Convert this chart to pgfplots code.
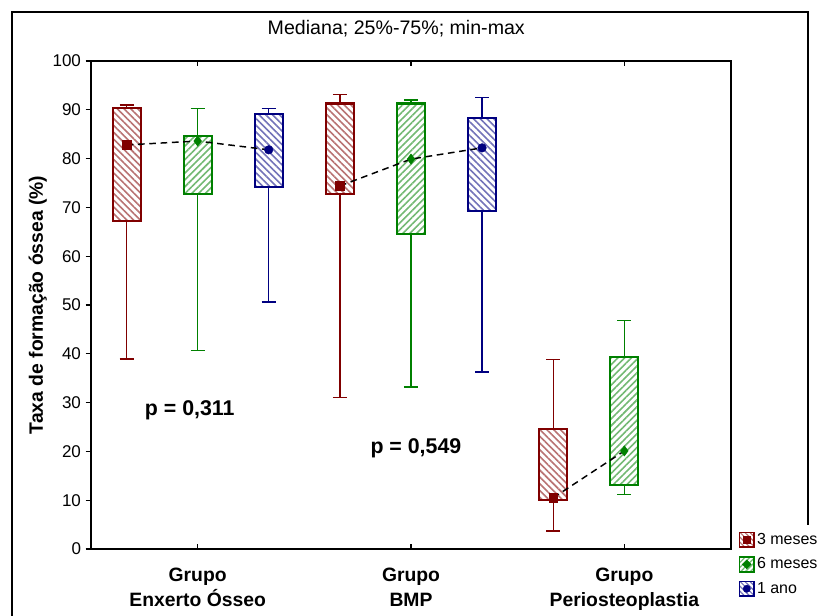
\documentclass[border=0pt]{standalone}
\usepackage{fontspec}
\setmainfont{Liberation Sans}
\usepackage{pgfplots}
\pgfplotsset{compat=1.18}
\usetikzlibrary{patterns.meta}
\definecolor{redc}{RGB}{128,0,0}
\definecolor{greenc}{RGB}{0,128,0}
\definecolor{bluec}{RGB}{0,0,128}
% #1 colour, #2 hatch angle, #3 position, #4 min, #5 Q1, #6 Q3, #7 max
\newcommand{\mybox}[7]{%
  \pgfmathsetmacro{\xa}{#3-0.0655}\pgfmathsetmacro{\xb}{#3+0.0655}%
  \pgfmathsetmacro{\ca}{#3-0.033}\pgfmathsetmacro{\cb}{#3+0.033}%
  \addplot[forget plot, draw=#1, line width=1pt] coordinates {(#3,#5)(#3,#4)};
  \addplot[forget plot, draw=#1, line width=1pt] coordinates {(#3,#6)(#3,#7)};
  \addplot[forget plot, draw=#1, line width=1pt] coordinates {(\ca,#4)(\cb,#4)};
  \addplot[forget plot, draw=#1, line width=1pt] coordinates {(\ca,#7)(\cb,#7)};
  \addplot[forget plot, draw=#1, line width=1.6pt, line join=miter, preaction={fill=white},
    pattern={Lines[angle=#2,distance=3.6pt,line width=1.2pt]}, pattern color=#1!55]
    coordinates {(\xa,#5)(\xb,#5)(\xb,#6)(\xa,#6)} --cycle;
}
\begin{document}
\begin{tikzpicture}
\begin{axis}[
  at={(0,0)}, anchor=south west,
  scale only axis, width=480pt, height=366pt,
  xmin=0.5, xmax=3.5, ymin=0, ymax=100,
  xtick={1,2,3},
  xticklabels={{Grupo\\Enxerto Ósseo},{Grupo\\BMP},{Grupo\\Periosteoplastia}},
  ytick={0,10,...,100},
  axis line style={line width=0.8pt},
  major tick length=4pt,
  xtick align=inside, ytick align=outside, ytick pos=left,
  tick style={black, line width=0.8pt},
  /pgf/number format/assume math mode=true,
  yticklabel style={font=\fontsize{12.75}{15}\selectfont},
  xticklabel style={font=\bfseries\fontsize{14.5}{18.75}\selectfont, align=center, yshift=-11pt},
  title={Mediana; 25\%-75\%; min-max},
  title style={at={(rel axis cs:0.477,1)}, anchor=base, yshift=13.5pt, font=\fontsize{14.7}{17}\selectfont},
  ylabel={Taxa de formação óssea (\%)},
  every axis y label/.style={at={([xshift=-36pt]rel axis cs:0,0.5)}, rotate=90, anchor=base, font=\bfseries\fontsize{14.5}{17}\selectfont},
  legend style={at={(rel axis cs:1,0)}, anchor=north west, xshift=5.5pt, yshift=13.5pt,
    draw=none, fill=none, font=\fontsize{12}{14}\selectfont, inner sep=0pt, row sep=5.5pt,
    nodes={inner sep=1.5pt}},
  legend cell align=left,
  clip=false,
]
% Grupo Enxerto Osseo
\mybox{redc}{-45}{0.667}{38.9}{67.3}{90.4}{91.0}
\mybox{greenc}{45}{1.0}{40.7}{72.7}{84.7}{90.2}
\mybox{bluec}{-45}{1.333}{50.6}{74.2}{89.1}{90.3}
% Grupo BMP
\mybox{redc}{-45}{1.667}{31.0}{72.8}{91.3}{93.2}
\mybox{greenc}{45}{2.0}{33.2}{64.5}{91.3}{92.0}
\mybox{bluec}{-45}{2.333}{36.3}{69.3}{88.4}{92.5}
% Grupo Periosteoplastia
\mybox{redc}{-45}{2.667}{3.7}{10.0}{24.6}{38.8}
\mybox{greenc}{45}{3.0}{11.1}{13.1}{39.3}{46.8}
% dashed median lines
\addplot[forget plot, black, line width=1.1pt, dash pattern=on 5pt off 3.5pt] coordinates {(0.667,82.8)(1.0,83.6)(1.333,81.8)};
\addplot[forget plot, black, line width=1.1pt, dash pattern=on 5pt off 3.5pt] coordinates {(1.667,74.4)(2.0,79.9)(2.333,82.2)};
\addplot[forget plot, black, line width=1.1pt, dash pattern=on 5pt off 3.5pt] coordinates {(2.667,10.5)(3.0,20.1)};
% median markers
\addplot[forget plot, only marks, mark=square*, mark size=3.2pt, color=redc] coordinates {(0.667,82.8)(1.667,74.4)(2.667,10.5)};
\addplot[forget plot, only marks, mark=diamond*, mark size=3.8pt, color=greenc] coordinates {(1.0,83.6)(2.0,79.9)(3.0,20.1)};
\addplot[forget plot, only marks, mark=*, mark size=3.2pt, color=bluec] coordinates {(1.333,81.8)(2.333,82.2)};
% legend
\addlegendimage{legend image code/.code={
  \draw[draw=redc, line width=1.3pt, preaction={fill=white}, pattern={Lines[angle=-45,distance=2.6pt,line width=0.9pt]}, pattern color=redc!55] (0pt,-5.5pt) rectangle (11pt,5.5pt);
  \fill[redc] (3pt,-2.5pt) rectangle (8pt,2.5pt);}}
\addlegendentry{3 meses}
\addlegendimage{legend image code/.code={
  \draw[draw=greenc, line width=1.3pt, preaction={fill=white}, pattern={Lines[angle=45,distance=2.6pt,line width=0.9pt]}, pattern color=greenc!55] (0pt,-5.5pt) rectangle (11pt,5.5pt);
  \fill[greenc] (5.5pt,3.3pt)--(8.8pt,0pt)--(5.5pt,-3.3pt)--(2.2pt,0pt)--cycle;}}
\addlegendentry{6 meses}
\addlegendimage{legend image code/.code={
  \draw[draw=bluec, line width=1.3pt, preaction={fill=white}, pattern={Lines[angle=-45,distance=2.6pt,line width=0.9pt]}, pattern color=bluec!55] (0pt,-5.5pt) rectangle (11pt,5.5pt);
  \fill[bluec] (5.5pt,0pt) circle (2.7pt);}}
\addlegendentry{1 ano}
\node[font=\bfseries\fontsize{16}{19}\selectfont] at (axis cs:0.963,28.5) {p = 0,311};
\node[font=\bfseries\fontsize{16}{19}\selectfont] at (axis cs:2.023,20.7) {p = 0,549};
\end{axis}
\draw[line width=1.5pt] (-59.25pt,-52pt) -- (-59.25pt,402.75pt) -- (537.75pt,402.75pt) -- (537.75pt,18pt);
\pgfresetboundingbox
\useasboundingbox (-68.25pt,-50.25pt) rectangle (549pt,411.75pt);
\end{tikzpicture}
\end{document}
